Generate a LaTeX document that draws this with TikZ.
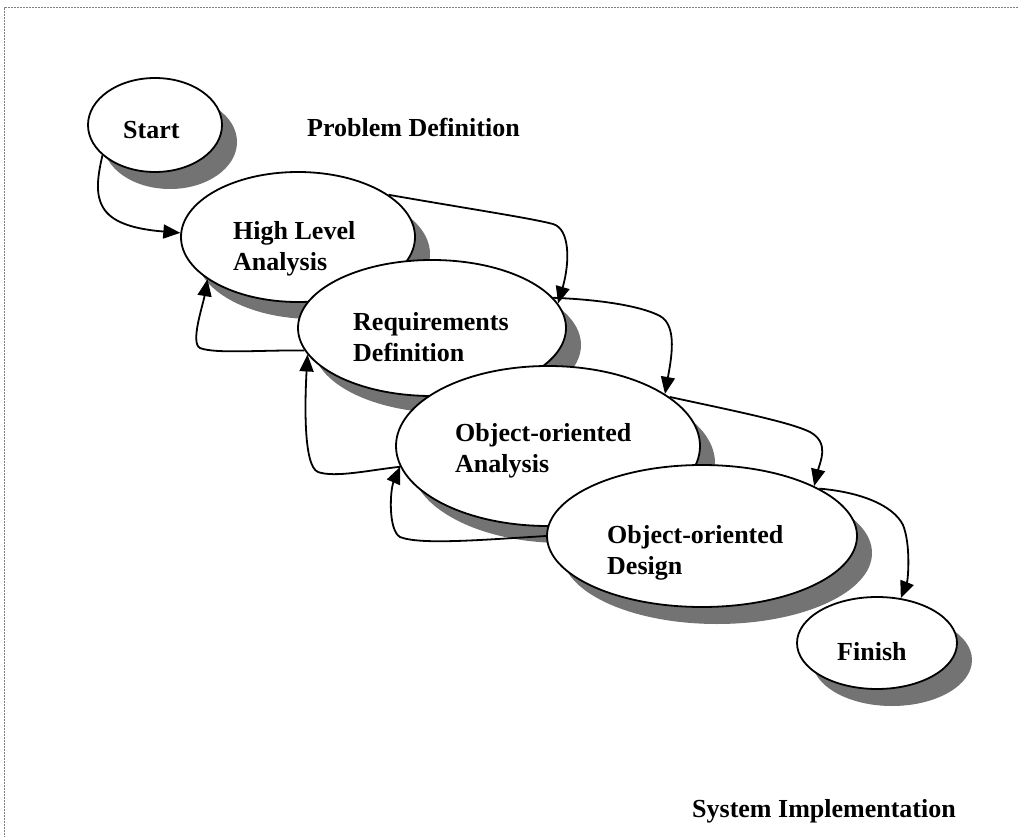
\documentclass[tikz,border=0pt]{standalone}
\usepackage{fontspec}
\setmainfont{Liberation Serif}
\usetikzlibrary{arrows.meta,shapes.geometric,shadows}
\definecolor{shade}{gray}{0.45}
\definecolor{framegray}{gray}{0.5}
\begin{document}
\begin{tikzpicture}[x=1pt,y=-1pt,
  phase/.style={ellipse, draw=black, line width=1.8pt, fill=white, inner sep=0pt,
    drop shadow={shadow xshift=15pt, shadow yshift=-17pt, opacity=1, fill=shade, draw=none}},
  caption/.style={font=\fontsize{26}{31}\selectfont\bfseries, inner sep=0pt,
    anchor=base west, align=left},
  flow/.style={line width=1.8pt, -{Triangle[length=17pt,width=14pt]}},
]
\useasboundingbox (0,0) rectangle (1018,837);

% page frame
\draw[framegray, line width=1pt, dash pattern=on 2pt off 1pt] (1018,8) -- (4,8) -- (4,837);

% phases, drawn in order so each one covers the previous shadow
\node[phase, minimum width=134pt, minimum height=94pt]  (start) at (155,125) {};
\node[phase, minimum width=234pt, minimum height=130pt] (hla)   at (298,237) {};
\node[phase, minimum width=268pt, minimum height=136pt] (rd)    at (432,328) {};
\node[phase, minimum width=304pt, minimum height=160pt] (ooa)   at (548,446) {};
\node[phase, minimum width=310pt, minimum height=142pt] (ood)   at (702,536) {};
\node[phase, minimum width=160pt, minimum height=92pt]  (fin)   at (877,643) {};

% labels (two-line labels sit on the baseline of their last line)
\node[caption] (startlbl) at (123,139) {Start};
\node[caption] (probdef)  at (307,137) {Problem Definition};
\node[caption] (hlalbl)   at (233,271) {High Level\\Analysis};
\node[caption] (rdlbl)    at (353,361) {Requirements\\Definition};
\node[caption] (ooalbl)   at (455,472) {Object-oriented\\Analysis};
\node[caption] (oodlbl)   at (607,574) {Object-oriented\\Design};
\node[caption] (finlbl)   at (837,660) {Finish};
\node[caption] (sysimp)   at (692,817) {System Implementation};

% forward flow
\draw[flow] (start.210) .. controls (92,200) and (95,226) .. (hla.178);
\draw[flow] (hla.25) .. controls (470,209) and (530,218) .. (553,224)
                     .. controls (570,229) and (570,262) .. (rd.11);
\draw[flow] (rd.14) .. controls (610,300) and (645,308) .. (660,316)
                    .. controls (678,326) and (671,360) .. (ooa.24);
\draw[flow] (ooa.22) .. controls (730,410) and (790,422) .. (810,432)
                     .. controls (830,443) and (820,462) .. (ood.24);
\draw[flow] (ood.22) .. controls (860,492) and (893,505) .. (903,525)
                     .. controls (911,545) and (908,580) .. (fin.62);

% feedback flow
\draw[flow] (rd.190) .. controls (260,350) and (215,354) .. (200,348)
                     .. controls (190,343) and (203,305) .. (hla.205);
\draw[flow] (ooa.188) .. controls (370,470) and (335,478) .. (318,472)
                      .. controls (303,466) and (305,400) .. (rd.192);
\draw[flow] (ood.west) .. controls (480,540) and (420,545) .. (400,537)
                       .. controls (388,530) and (390,490) .. (ooa.188);
\end{tikzpicture}
\end{document}
